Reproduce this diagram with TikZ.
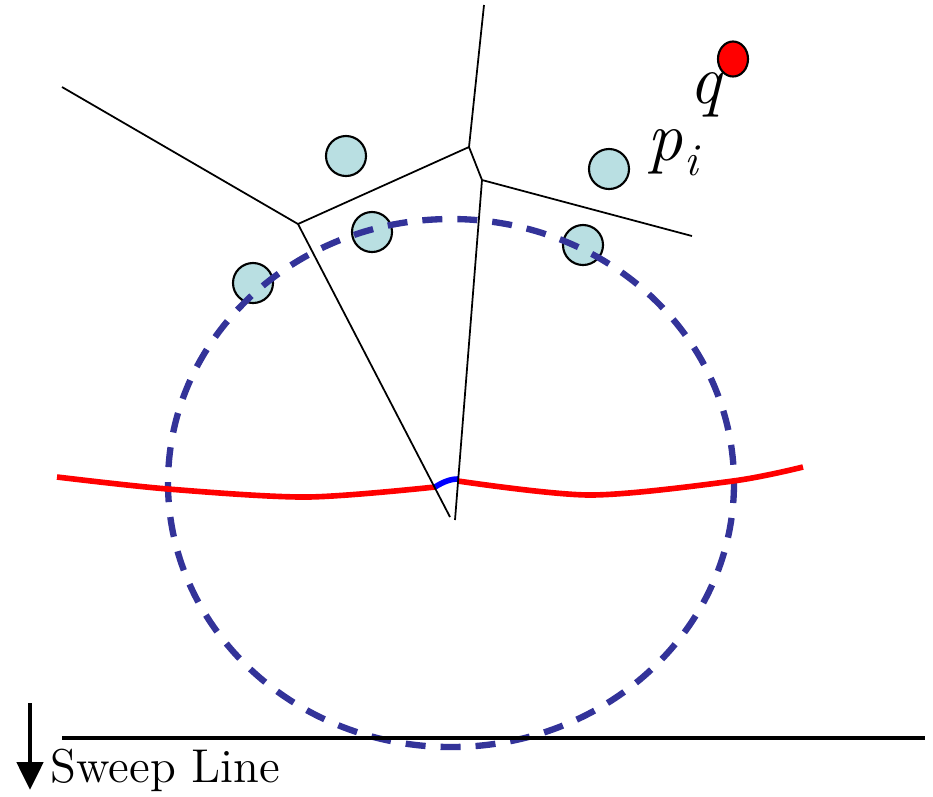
\documentclass[tikz,border=0pt]{standalone}
\usepackage{tikz}
\usetikzlibrary{shapes.geometric, arrows.meta}
\definecolor{vsite}{RGB}{185,223,226}
\definecolor{vcircle}{RGB}{51,51,153}
\definecolor{vbeach}{RGB}{255,0,0}
\definecolor{varc}{RGB}{0,0,255}

\begin{document}
\begin{tikzpicture}[x=0.01cm, y=-0.01cm,
  site/.style={circle, draw=black, line width=0.6pt, fill=vsite, minimum size=0.4cm, inner sep=0pt},
  qsite/.style={ellipse, draw=black, line width=0.6pt, fill=vbeach, minimum width=0.3cm, minimum height=0.35cm, inner sep=0pt},
  vedge/.style={line width=0.5pt, black},
  emptycirc/.style={line width=1.8pt, vcircle, dash pattern=on 0.2cm off 0.15cm},
  beach/.style={line width=1.6pt, vbeach},
  sweep/.style={line width=1.4pt, black},
  lbl/.style={inner sep=0pt, font=\rmfamily\fontsize{20}{20}\selectfont\itshape}]
  \useasboundingbox (0,0) rectangle (933,796);
  \node[site] (s1) at (346,156) {};
  \node[site] (s2) at (372,232) {};
  \node[site] (s3) at (609,169) {};
  \node[site] (s4) at (583,245) {};
  \node[site] (s5) at (253,283) {};
  \node[qsite] (q) at (733,59) {};
  \node[lbl, anchor=base west] (qlbl) at (689,103) {q};
  \node[lbl, anchor=base west] (pilbl) at (647,160) {p\kern0.5pt\raisebox{-4.5pt}{\fontsize{13}{13}\selectfont i}};
  \draw[emptycirc] (451,483) ellipse [x radius=283, y radius=264];
  \draw[beach] plot[smooth] coordinates {(57,477) (168,489) (307,497) (435,487)};
  \draw[beach] plot[smooth] coordinates {(458,481) (590,495) (733,481) (803,467)};
  \draw[line width=1.6pt, varc] (435,487) .. controls (443,482) and (450,479) .. (458,479);
  \coordinate (va) at (298,224);
  \coordinate (vb) at (469,147);
  \coordinate (vc) at (482,180);
  \coordinate (e1) at (62,87);
  \coordinate (e2) at (484,5);
  \coordinate (e3) at (692,236);
  \coordinate (e4) at (450,517);
  \coordinate (e5) at (455,520);
  \draw[vedge] (e1) -- (va) -- (vb) -- (vc) -- (e3);
  \draw[vedge] (vb) -- (e2);
  \draw[vedge] (va) -- (e4);
  \draw[vedge] (vc) -- (e5);
  \coordinate (sl1) at (62,738);
  \coordinate (sl2) at (925,738);
  \draw[sweep] (sl1) -- (sl2);
  \coordinate (ar1) at (30,703);
  \coordinate (ar2) at (30,790);
  \draw[sweep, -{Triangle[length=0.28cm, width=0.26cm]}] (ar1) -- (ar2);
  \node[inner sep=0pt, anchor=base west, font=\rmfamily\fontsize{13.5}{16}\selectfont] (sweeplbl) at (50,782) {Sweep Line};
\end{tikzpicture}
\end{document}
